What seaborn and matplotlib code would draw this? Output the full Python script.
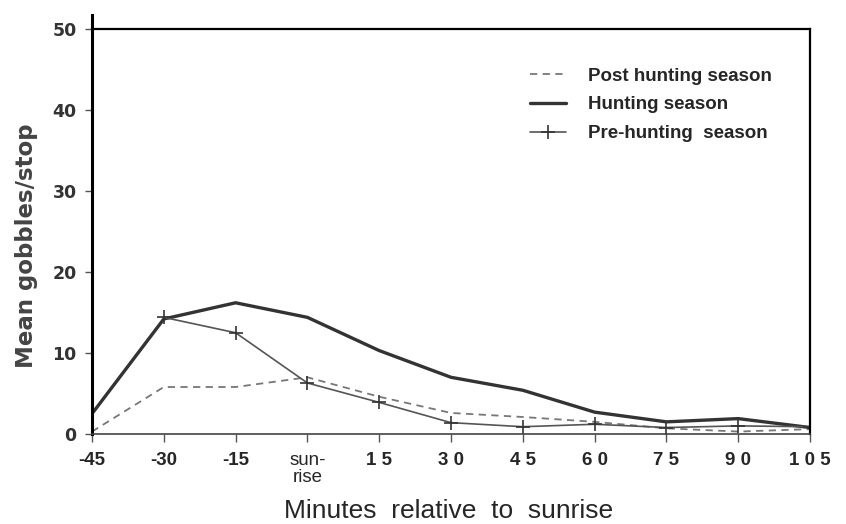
import matplotlib
matplotlib.use("Agg")
import matplotlib.pyplot as plt
import seaborn as sns
import pandas as pd

minutes = [-45, -30, -15, 0, 15, 30, 45, 60, 75, 90, 105]
tick_labels = ["-45", "-30", "-15", "sun-\nrise", "1 5", "3 0", "4 5", "6 0", "7 5", "9 0", "1 0 5"]
y_ticks = [0, 10, 20, 30, 40, 50]

post_minutes = [-45, -30, -15, 0, 15, 30, 45, 60, 75, 90, 105]
post_values = [0.3, 5.8, 5.8, 7.0, 4.6, 2.6, 2.1, 1.5, 0.7, 0.3, 0.6]

hunt_minutes = [-45, -30, -15, 0, 15, 30, 45, 60, 75, 90, 105]
hunt_values = [2.5, 14.2, 16.2, 14.4, 10.3, 7.0, 5.4, 2.7, 1.5, 1.9, 0.8]

pre_minutes = [-30, -15, 0, 15, 30, 45, 60, 75, 90, 105]
pre_values = [14.4, 12.5, 6.3, 3.9, 1.4, 0.9, 1.2, 0.8, 1.0, 0.9]

sns.set_style("ticks")
plt.rcParams['font.family'] = ['Liberation Sans', 'DejaVu Sans']

fig = plt.figure(figsize=(8.46, 5.24), dpi=100)
ax = fig.add_axes([92/846, 1-434/524, (810-92)/846, (434-29)/524])

df_post = pd.DataFrame({"x": post_minutes, "y": post_values})
df_hunt = pd.DataFrame({"x": hunt_minutes, "y": hunt_values})
df_pre = pd.DataFrame({"x": pre_minutes, "y": pre_values})

sns.lineplot(data=df_post, x="x", y="y", ax=ax, color="#777777", lw=1.3,
             linestyle=(0, (4, 3)), label="Post hunting season")
sns.lineplot(data=df_hunt, x="x", y="y", ax=ax, color="#333333", lw=2.4,
             label="Hunting season")
sns.lineplot(data=df_pre, x="x", y="y", ax=ax, color="#555555", lw=1.2,
             marker="+", markersize=10, markeredgewidth=1.2, markeredgecolor="#333333",
             label="Pre-hunting  season")

ax.set_xlim(-45, 105)
ax.set_ylim(0, 50)
ax.set_xticks(minutes)
ax.set_xticklabels(tick_labels)
for lbl in ax.get_xticklabels():
    if "sun" in lbl.get_text():
        lbl.set_fontweight("normal")
        lbl.set_fontsize(13.5)
        lbl.set_linespacing(1.0)
    else:
        lbl.set_fontweight("bold")
        lbl.set_fontsize(13.5)
ax.set_yticks(y_ticks)
ax.set_yticklabels([str(v) for v in y_ticks])
for lbl in ax.get_yticklabels():
    lbl.set_fontweight("bold")
    lbl.set_fontsize(12.5)
    lbl.set_family("DejaVu Sans")
    lbl.set_color("#333333")
ax.tick_params(axis="x", direction="out", length=6, width=1, color="#555555", pad=7)
ax.tick_params(axis="y", direction="out", length=5, width=1, color="#555555", pad=6)

for s in ["top", "right"]:
    ax.spines[s].set_visible(True)
for s in ax.spines.values():
    s.set_color("black")
    s.set_linewidth(1.6)
ax.spines["left"].set_linewidth(2.2)
ax.spines["left"].set_bounds(0, 51.7)
ax.spines["bottom"].set_linewidth(1.2)
ax.spines["bottom"].set_color("#444444")

ax.set_xlabel("Minutes  relative  to  sunrise", fontsize=19)
ax.xaxis.set_label_coords(0.497, -0.16)
ax.set_ylabel("Mean gobbles/stop", fontsize=16.5, fontweight="bold", color="#444444",
              family="DejaVu Sans")
ax.yaxis.set_label_coords(-0.075, 0.464)

leg = ax.legend(loc="upper left", bbox_to_anchor=((530-92)/718, 0.905), frameon=False,
                borderpad=0, borderaxespad=0,
                handlelength=1.9, handletextpad=1.2, labelspacing=0.62,
                prop={"weight": "bold", "size": 13.5})

fig.savefig("out.png", dpi=100)
